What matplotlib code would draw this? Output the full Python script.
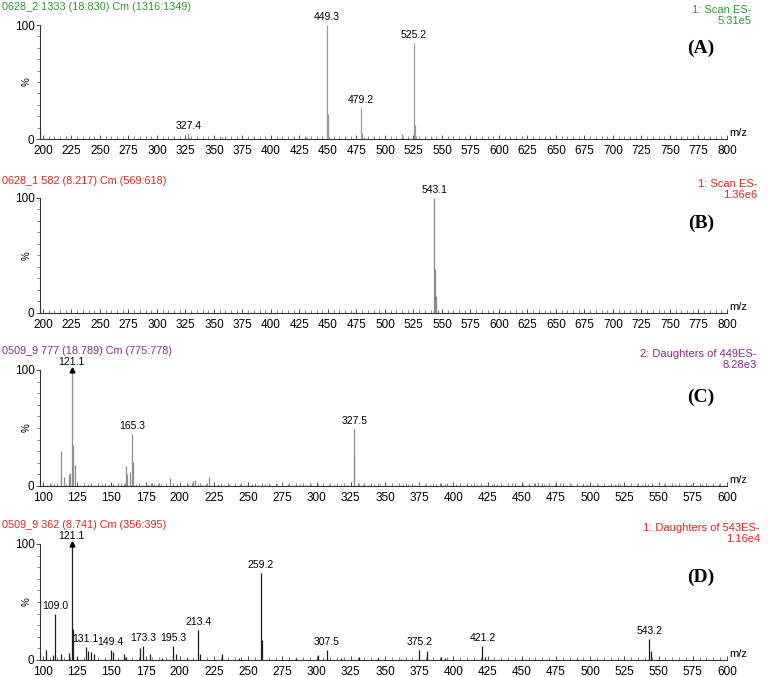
import matplotlib
matplotlib.use("Agg")
import matplotlib.pyplot as plt
from matplotlib.ticker import MultipleLocator, FixedLocator

plt.rcParams['font.family'] = ['Liberation Sans', 'DejaVu Sans']

# ---------------- data ----------------
# Panel A
a_mz = [283.0, 327.4, 328.4, 357.0, 431.0, 432.0, 449.3, 450.3, 451.3, 479.2, 480.2, 481.2,
        515.0, 516.0, 525.2, 526.2, 527.2, 541.0, 555.0, 570.0]
a_int = [1.0, 5.0, 1.5, 1.5, 2.0, 1.0, 100.0, 22.0, 3.0, 27.0, 5.0, 1.5,
         4.0, 2.0, 84.0, 12.0, 3.0, 0.8, 1.2, 0.8]
a_labels = [(327.4, 5.0, "327.4"), (449.3, 100.0, "449.3"), (479.2, 27.0, "479.2"), (525.2, 84.0, "525.2")]

# Panel B
b_mz = [543.1, 544.1, 545.1, 546.1]
b_int = [100.0, 38.0, 15.0, 3.0]
b_labels = [(543.1, 100.0, "543.1")]

# Panel C
c_major_mz = [112.9, 113.2, 115.0, 118.8, 119.7, 121.1, 121.6, 123.2, 161.0, 161.6, 163.4, 165.3, 165.6,
              193.0, 211.3, 221.4, 327.1, 327.5]
c_major_int = [30.0, 11.0, 8.0, 10.0, 11.0, 100.0, 35.0, 18.0, 17.0, 10.0, 12.0, 45.0, 21.0,
               7.0, 5.0, 8.0, 27.0, 49.0]
c_noise_mz = [103, 106, 108, 110, 117, 127, 130, 133, 135, 137, 140, 143, 145, 148, 151, 155, 157, 159,
              168, 172, 177, 179, 181, 184, 186, 195, 198, 203, 206, 209, 210, 213, 216, 219, 224, 228,
              232, 236, 240, 244, 249, 253, 257, 262, 266, 271, 275, 279, 284, 288, 292, 296, 301, 305,
              309, 313, 318, 322, 331, 334, 338, 342, 346, 351, 355, 359, 363, 367, 371, 375, 379, 383,
              387, 391, 394, 398, 402, 405, 409, 413, 417, 420, 424, 428, 432, 436, 440, 443, 447, 451,
              455, 459, 462, 466, 470, 474, 478, 482, 486, 490, 494, 498, 502, 506, 510, 514, 518, 522,
              526, 530, 534, 538, 542, 546, 550, 554, 558, 562, 566, 570, 574, 578, 582, 586, 590, 594, 598]
c_noise_int = [1, 1.5, 2, 1, 2, 1, 2, 1.5, 2.5, 1, 1, 2, 1.5, 1, 2, 1.5, 3, 2,
               1.5, 1, 2, 2.5, 2, 1.5, 2, 3, 1.5, 1, 1.5, 3, 4, 2, 1, 1.5, 1, 1.5,
               1, 2, 1, 1.5, 1, 2, 1, 1.5, 1, 2, 1, 1.5, 1, 2, 1, 1.5, 2, 1,
               1.5, 1, 2, 1, 2.5, 1.5, 1, 2, 1.5, 1, 2, 1, 1.5, 2, 1, 1.5, 2, 1,
               1.5, 2.5, 2, 1, 2, 1.5, 1, 2, 1, 1.5, 1, 2, 1.5, 1, 2, 2.5, 1, 2,
               1.5, 3, 3.5, 1.5, 1, 2, 2.5, 1, 1.5, 2, 1, 1.5, 1, 2, 1.5, 1, 2, 1.5,
               1, 2, 1.5, 1, 1.5, 1, 2, 1.5, 1, 1.5, 1, 2, 1.5, 1, 1.5, 1, 2, 1.5, 1]
c_labels = [(121.1, 100.0, "121.1"), (165.3, 45.0, "165.3"), (327.5, 49.0, "327.5")]

# Panel D
d_mz = [102.0, 107.0, 109.0, 113.0, 119.0, 121.1, 122.0, 125.0, 131.1, 133.0, 135.0, 137.0, 149.4, 151.0,
        159.0, 161.0, 171.0, 173.3, 178.0, 187.0, 195.3, 197.0, 205.0, 213.4, 215.0, 231.0, 243.0,
        259.2, 260.2, 285.0, 301.0, 307.5, 318.0, 331.0, 345.0, 362.0, 375.2, 381.0, 391.0, 394.0,
        421.2, 423.0, 450.0, 490.0, 543.2, 544.2]
d_int = [9.0, 4.0, 40.0, 5.0, 6.0, 100.0, 27.0, 3.0, 11.0, 8.0, 7.0, 5.0, 9.0, 7.0,
         5.0, 3.0, 10.0, 12.0, 5.0, 2.0, 12.0, 5.0, 2.0, 26.0, 5.0, 5.0, 2.0,
         75.0, 17.0, 1.5, 4.0, 9.0, 1.5, 3.0, 1.5, 1.0, 9.0, 8.0, 3.0, 2.0,
         12.0, 3.0, 1.0, 1.0, 18.0, 8.0]
d_labels = [(109.0, 40.0, "109.0"), (121.1, 100.0, "121.1"), (131.1, 11.0, "131.1"), (149.4, 9.0, "149.4"),
            (173.3, 12.0, "173.3"), (195.3, 12.0, "195.3"), (213.4, 26.0, "213.4"), (259.2, 75.0, "259.2"),
            (307.5, 9.0, "307.5"), (375.2, 9.0, "375.2"), (421.2, 12.0, "421.2"), (543.2, 18.0, "543.2")]

titles = ["0628_2 1333 (18.830) Cm (1316:1349)", "0628_1 582 (8.217) Cm (569:618)",
          "0509_9 777 (18.789) Cm (775:778)", "0509_9 362 (8.741) Cm (356:395)"]
right1 = ["1: Scan ES-", "1: Scan ES-", "2: Daughters of 449ES-", "1: Daughters of 543ES-"]
right2 = ["5.31e5", "1.36e6", "8.28e3", "1.16e4"]
panel_tags = ["(A)", "(B)", "(C)", "(D)"]

# ---------------- layout ----------------
W, H = 768, 677
fig = plt.figure(figsize=(W / 100, H / 100), dpi=100)

text_colors = ["#2f9a2f", "#e8221c", "#8c2a8c", "#e8221c"]
line_colors = ["#9a9a9a", "#8a8a8a", "#8f8f8f", "#1e1e1e"]
# (y of 0, y of 100) in pixels
ypix = [(139, 25), (313, 198), (486, 370), (660, 544)]
title_y = [7, 181, 351, 525]
right_x = [752, 757, 757, 760]
xlims = [(197.4, 800), (197.4, 800), (97.8, 600), (97.8, 600)]
ax_left, ax_right = 40, 727

def add_panel(i, mz_lists, int_lists, labels, arrow=False):
    y0, y100 = ypix[i]
    ax = fig.add_axes([ax_left / W, 1 - y0 / H, (ax_right - ax_left) / W, (y0 - y100) / H])
    for mz, it in zip(mz_lists, int_lists):
        ax.vlines(mz, 0, it, color=line_colors[i], lw=0.9)
    ax.set_xlim(*xlims[i])
    ax.set_ylim(0, 100)
    for s in ["top", "right"]:
        ax.spines[s].set_visible(False)
    for s in ["left", "bottom"]:
        ax.spines[s].set_linewidth(0.8)
        ax.spines[s].set_color("#333333")
    ax.xaxis.set_major_locator(MultipleLocator(25))
    ax.xaxis.set_minor_locator(MultipleLocator(5))
    ax.yaxis.set_major_locator(FixedLocator([0, 100]))
    ax.yaxis.set_minor_locator(MultipleLocator(10))
    ax.tick_params(axis="x", which="major", direction="in", length=3, width=0.6, labelsize=8.5, pad=4,
                   colors="#333333", labelcolor="black")
    ax.tick_params(axis="x", which="minor", direction="in", length=2, width=0.5, colors="#555555")
    ax.tick_params(axis="y", which="major", direction="out", length=3, width=0.6, labelsize=8.5, pad=1,
                   colors="#333333", labelcolor="black")
    ax.tick_params(axis="y", which="minor", direction="out", length=2, width=0.5, colors="#555555")
    ax.set_ylabel("%", fontsize=7)
    ax.yaxis.set_label_coords(-0.012, 0.5)
    ax.text(1.003, 0.01, "m/z", transform=ax.transAxes, fontsize=8, ha="left", va="bottom")
    for mz, it, lab in labels:
        off = 2
        if arrow and lab == "121.1":
            ax.plot([mz], [it], marker="^", ms=3.5, color="black", clip_on=False, zorder=5)
            off = 2.5
        ax.annotate(lab, (mz, it), xytext=(0, off), textcoords="offset points", ha="center", va="bottom",
                    fontsize=7.5, annotation_clip=False)
    # header texts
    fig.text(2 / W, 1 - title_y[i] / H, titles[i], fontsize=7.8, color=text_colors[i], ha="left", va="center")
    fig.text(right_x[i] / W, 1 - (title_y[i] + 3) / H, right1[i], fontsize=8, color=text_colors[i],
             ha="right", va="center")
    fig.text(right_x[i] / W, 1 - (title_y[i] + 14) / H, right2[i], fontsize=8, color=text_colors[i],
             ha="right", va="center")
    tag_y = [48, 223, 397, 577][i]
    fig.text(701 / W, 1 - tag_y / H, panel_tags[i], fontsize=14, fontweight="bold",
             family="Liberation Serif", ha="center", va="center")
    return ax

add_panel(0, a_mz, a_int, a_labels)
add_panel(1, b_mz, b_int, b_labels)
add_panel(2, c_major_mz + c_noise_mz, c_major_int + c_noise_int, c_labels, arrow=True)
add_panel(3, d_mz, d_int, d_labels, arrow=True)

fig.savefig("out.png", dpi=100)
